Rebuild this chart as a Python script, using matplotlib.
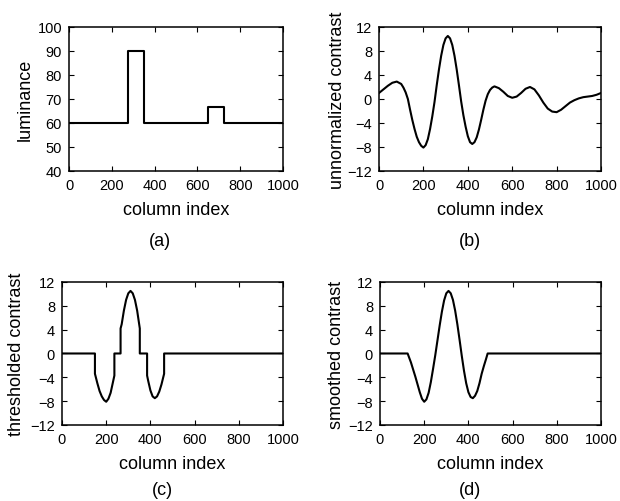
import matplotlib
matplotlib.use('Agg')
import matplotlib.pyplot as plt

plt.rcParams['font.family'] = ['Liberation Sans', 'DejaVu Sans']

# (a) luminance profile (step edges)
lum_x = [0, 276, 276, 349, 349, 650, 650, 723, 723, 1000]
lum_y = [60, 60, 90, 90, 60, 60, 66.5, 66.5, 60, 60]

# (b) unnormalized contrast
raw_x = [0, 20, 40, 60, 80, 100, 110, 120, 130, 140, 150, 160, 170, 180, 190, 200,
         210, 220, 230, 240, 250, 260, 270, 280, 290, 300, 310, 320, 330, 340, 350,
         360, 370, 380, 390, 400, 410, 420, 430, 440, 450, 460, 470, 480, 490, 500,
         510, 520, 540, 560, 580, 600, 620, 640, 660, 680, 700, 720, 740, 760, 780,
         800, 820, 840, 860, 880, 900, 920, 940, 960, 980, 1000]
raw_y = [1.0, 1.6, 2.2, 2.7, 2.9, 2.5, 1.9, 1.1, 0.0, -1.8, -3.5, -5.0, -6.3, -7.2, -7.8, -8.1,
         -7.7, -6.7, -5.0, -2.9, -0.5, 2.3, 4.9, 7.2, 9.0, 10.1, 10.5, 10.1, 9.0, 7.2, 4.9,
         2.3, -0.4, -2.7, -4.6, -6.2, -7.2, -7.5, -7.2, -6.4, -5.1, -3.5, -1.8, -0.3, 0.8, 1.5,
         1.9, 2.1, 1.8, 1.2, 0.5, 0.2, 0.4, 1.0, 1.7, 2.0, 1.6, 0.6, -0.6, -1.6, -2.1,
         -2.2, -1.8, -1.2, -0.6, -0.2, 0.1, 0.3, 0.4, 0.5, 0.7, 1.0]

# (c) thresholded contrast
thr_x = [0, 149, 149, 160, 170, 180, 190, 200, 210, 220, 230, 237, 237, 265, 265, 270,
         280, 290, 300, 310, 320, 330, 340, 352, 352, 385, 385, 390, 400, 410, 420,
         430, 440, 450, 462, 462, 1000]
thr_y = [0, 0, -3.4, -5.0, -6.3, -7.2, -7.8, -8.1, -7.6, -6.6, -4.9, -3.7, 0, 0, 4.2, 4.9,
         7.2, 9.0, 10.1, 10.5, 10.1, 9.0, 7.2, 4.2, 0, 0, -3.7, -4.6, -6.2, -7.2, -7.5,
         -7.2, -6.4, -5.2, -3.4, 0, 0]

# (d) smoothed contrast
smo_x = [0, 125, 140, 150, 160, 170, 180, 190, 200, 210, 220, 230, 240, 250, 260, 270,
         280, 290, 300, 310, 320, 330, 340, 350, 360, 370, 380, 390, 400, 410, 420,
         430, 440, 450, 460, 470, 480, 487, 1000]
smo_y = [0, 0, -1.5, -2.7, -3.9, -5.2, -6.5, -7.6, -8.1, -7.7, -6.6, -4.8, -2.6, -0.3, 2.2, 4.7,
         7.0, 8.9, 10.1, 10.5, 10.1, 9.0, 7.2, 4.9, 2.3, -0.4, -2.9, -5.0, -6.5, -7.3, -7.5,
         -7.1, -6.3, -5.0, -3.4, -2.1, -0.9, 0, 0]

contrast_ticks = [-12, -8, -4, 0, 4, 8, 12]
col_ticks = [0, 200, 400, 600, 800, 1000]

fig = plt.figure(figsize=(6.2, 5.02), dpi=100)

panels = [
    ([0.1113, 0.6574, 0.3452, 0.2869], lum_x, lum_y, 'luminance', (40, 100),
     [40, 50, 60, 70, 80, 90, 100], -0.206, '(a)', 160, 241),
    ([0.6113, 0.6574, 0.3581, 0.2869], raw_x, raw_y, 'unnormalized contrast', (-12, 12),
     contrast_ticks, -0.189, '(b)', 470, 241),
    ([0.1000, 0.1514, 0.3565, 0.2849], thr_x, thr_y, 'thresholded contrast', (-12, 12),
     contrast_ticks, -0.204, '(c)', 162, 491),
    ([0.6129, 0.1514, 0.3565, 0.2849], smo_x, smo_y, 'smoothed contrast', (-12, 12),
     contrast_ticks, -0.195, '(d)', 470, 491),
]

for rect, xs, ys, ylab, ylim, yticks, ylx, tag, tx, ty in panels:
    ax = fig.add_axes(rect)
    ax.plot(xs, ys, color='black', linewidth=1.5)
    ax.set_xlim(0, 1000)
    ax.set_ylim(*ylim)
    ax.set_xticks(col_ticks)
    ax.set_yticks(yticks)
    ax.tick_params(direction='in', top=True, right=True, length=3.5, width=0.8,
                   labelsize=10.5, pad=5)
    for s in ax.spines.values():
        s.set_linewidth(1.1)
    ax.set_xlabel('column index', fontsize=13, va='center')
    ax.xaxis.set_label_coords(0.5, -0.27)
    ax.set_ylabel(ylab, fontsize=13, va='center')
    ax.yaxis.set_label_coords(ylx, 0.5)
    fig.text(tx / 620, 1 - ty / 502, tag, fontsize=13, ha='center', va='center')

fig.savefig('out.png', dpi=100)
